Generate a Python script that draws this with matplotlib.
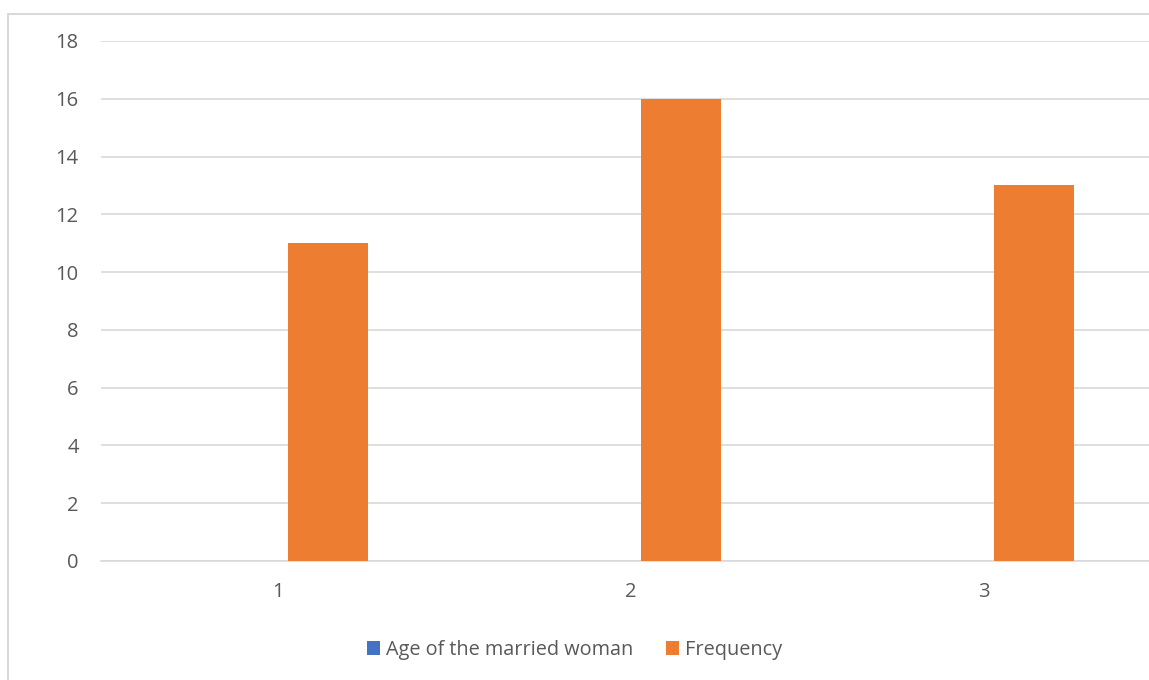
import numpy as np
import matplotlib.pyplot as plt
from matplotlib.patches import Rectangle

plt.rcParams['font.family'] = ['Open Sans', 'DejaVu Sans']

# Data
categories = ['1', '2', '3']
age_values = [0, 0, 0]
frequency = [11, 16, 13]
y_ticks = [0, 2, 4, 6, 8, 10, 12, 14, 16, 18]

blue = '#4472c4'
orange = '#ed7d31'
text_grey = '#595959'
grid_grey = '#d9d9d9'

fig = plt.figure(figsize=(11.49, 6.8), dpi=100)

# chart border (extends past the right/bottom edge)
fig.patches.append(Rectangle((8 / 1149, -0.1), 1.2, 1 - 14 / 680 + 0.1,
                             transform=fig.transFigure, fill=False,
                             edgecolor=grid_grey, linewidth=1.5))

ax = fig.add_axes([101 / 1149, 1 - 561 / 680, 1059 / 1149, (561 - 41) / 680])

x = np.arange(len(categories))
w = 0.224
off = 0.143
ax.bar(x - off, age_values, w, color=blue, label='Age of the married woman', zorder=3)
ax.bar(x + off, frequency, w, color=orange, label='Frequency', zorder=3)

ax.set_xlim(-0.5, 2.5)
ax.set_ylim(0, 18)
ax.set_yticks(y_ticks)
ax.set_xticks(x)
ax.set_xticklabels(categories)
ax.yaxis.grid(True, color=grid_grey, linewidth=1.2, zorder=0)
ax.tick_params(axis='both', length=0, labelsize=14.5, colors=text_grey)
ax.tick_params(axis='y', pad=16)
ax.tick_params(axis='x', pad=15)
for s in ['top', 'right', 'left']:
    ax.spines[s].set_visible(False)
ax.spines['bottom'].set_color(grid_grey)
ax.spines['bottom'].set_linewidth(1.2)

fig.legend(loc='center', bbox_to_anchor=(575 / 1149, 1 - 650 / 680), ncol=2,
           frameon=False, fontsize=14.3, labelcolor=text_grey,
           handlelength=0.65, handleheight=0.65, handletextpad=0.3,
           columnspacing=1.65)

fig.savefig('out.png', dpi=100)
